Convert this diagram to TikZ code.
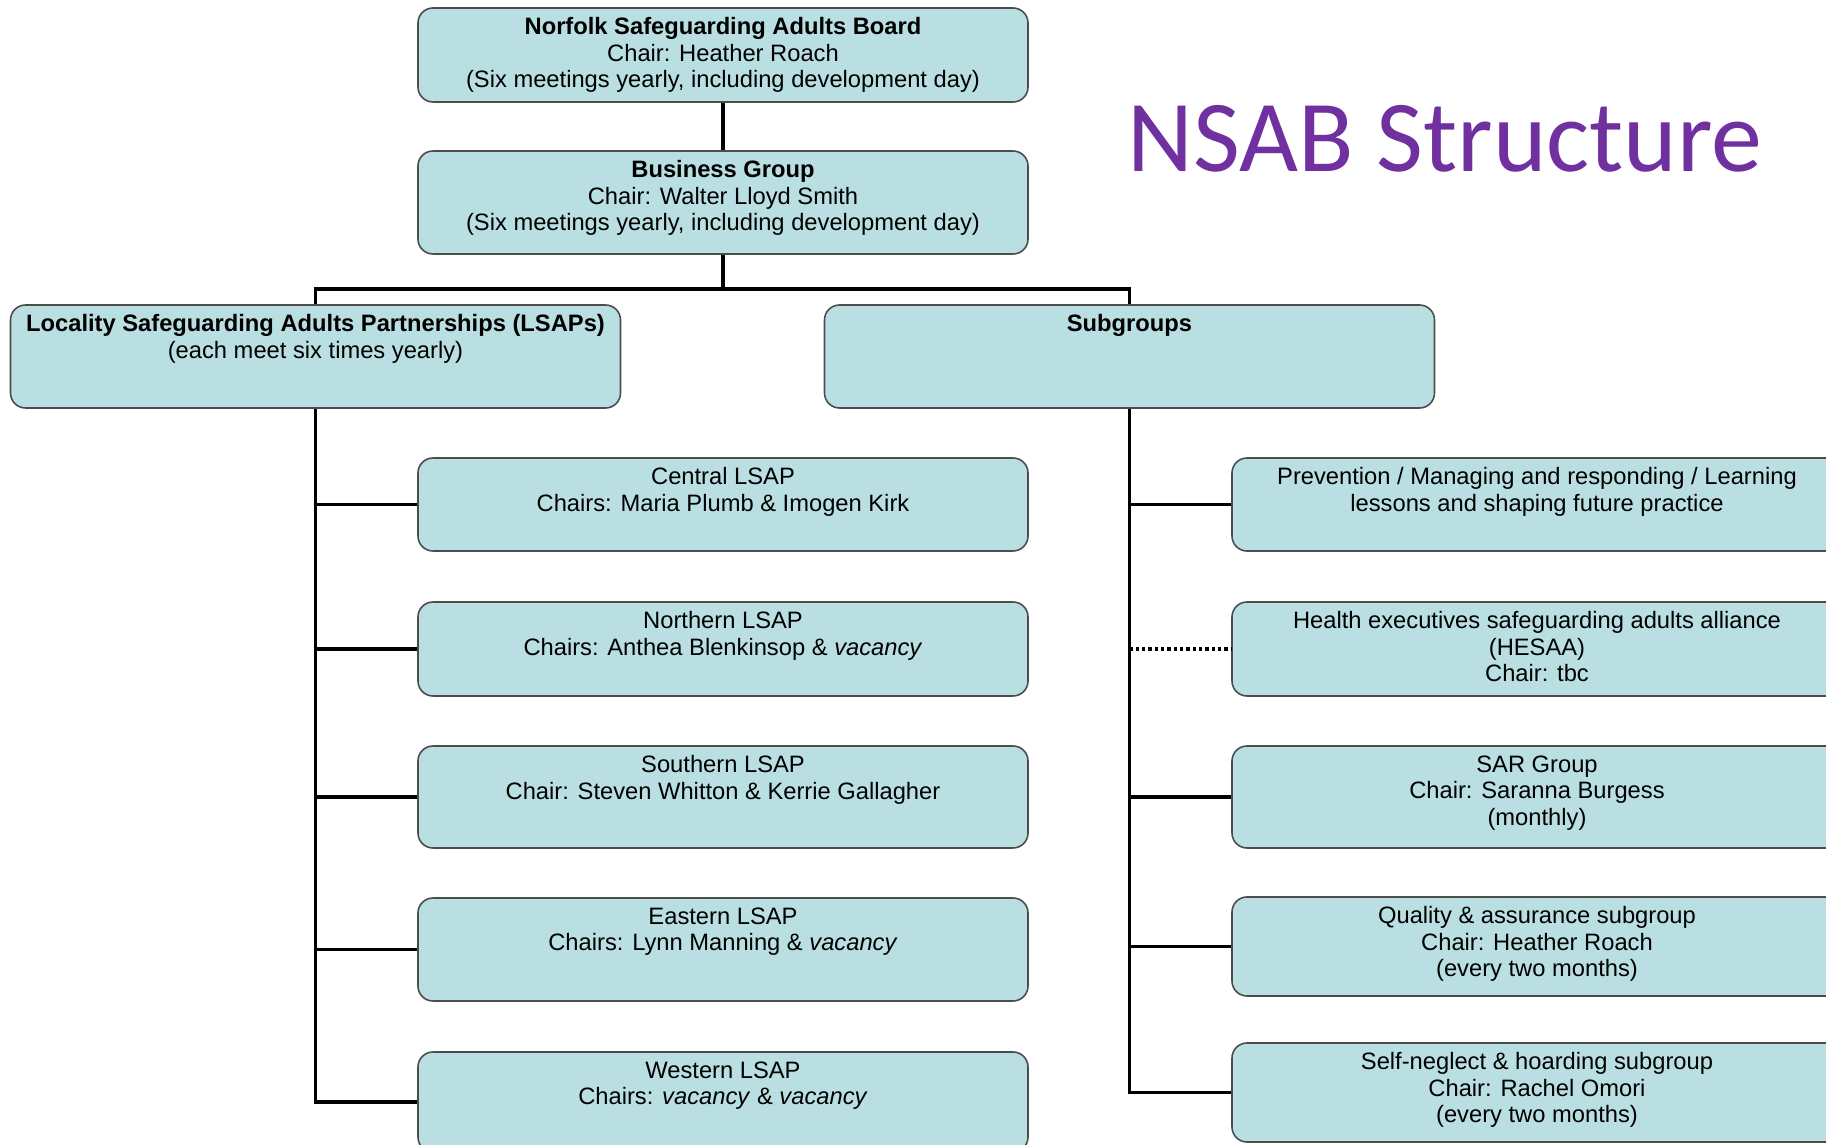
\documentclass[tikz,border=0pt]{standalone}
\usepackage{fontspec}
\setmainfont{Liberation Sans}
\newfontfamily\titlefont{Carlito}
\definecolor{boxblue}{HTML}{B9DFE3}
\definecolor{nsabpurple}{HTML}{7030A0}
\tikzset{
	orgbox/.style={draw=black!70, fill=boxblue, rounded corners=3mm, line width=0.9pt,
		minimum width=122mm, inner sep=0pt},
	boxtext/.style={anchor=north, align=center, inner sep=0pt, yshift=-5.8pt,
		font=\fontsize{13.5}{15}\selectfont},
	link/.style={line width=2pt},
	dotlink/.style={line width=2pt, dash pattern=on 1.8pt off 1.8pt}
}
\begin{document}
\begin{tikzpicture}[x=0.2mm,y=-0.2mm]
	\useasboundingbox (0,0) rectangle (1826,1145);
	\clip (0,0) rectangle (1826,1145);
	% title
	\node[anchor=base west, inner sep=0pt, text=nsabpurple, font=\titlefont\fontsize{58}{60}\selectfont] (title) at (1127,172) {NSAB Structure};
	% board and business group
	\node[orgbox, minimum height=18.8mm, label={[boxtext]north:{\textbf{Norfolk Safeguarding Adults Board}\\Chair: Heather Roach\\(Six meetings yearly, including development day)}}] (board) at (723,55) {};
	\node[orgbox, minimum height=20.6mm, label={[boxtext]north:{\textbf{Business Group}\\Chair: Walter Lloyd Smith\\(Six meetings yearly, including development day)}}] (business) at (723,202.5) {};
	% second row
	\node[orgbox, minimum height=20.6mm, label={[boxtext]north:{\textbf{Locality Safeguarding Adults Partnerships (LSAPs)}\\(each meet six times yearly)}}] (lsaps) at (315.5,356.5) {};
	\node[orgbox, minimum height=20.6mm, label={[boxtext]north:{\textbf{Subgroups}}}] (subgroups) at (1129.5,356.5) {};
	% locality partnerships
	\node[orgbox, minimum height=18.6mm, label={[boxtext]north:{Central LSAP\\Chairs: Maria Plumb \& Imogen Kirk}}] (central) at (723,504.5) {};
	\node[orgbox, minimum height=18.8mm, label={[boxtext]north:{Northern LSAP\\Chairs: Anthea Blenkinsop \& \textit{vacancy}}}] (northern) at (723,649) {};
	\node[orgbox, minimum height=20.4mm, label={[boxtext]north:{Southern LSAP\\Chair: Steven Whitton \& Kerrie Gallagher}}] (southern) at (723,797) {};
	\node[orgbox, minimum height=20.6mm, label={[boxtext]north:{Eastern LSAP\\Chairs: Lynn Manning \& \textit{vacancy}}}] (eastern) at (723,949.5) {};
	\node[orgbox, minimum height=20mm, label={[boxtext]north:{Western LSAP\\Chairs: \textit{vacancy} \& \textit{vacancy}}}] (western) at (723,1102) {};
	% subgroups
	\node[orgbox, minimum height=18.6mm, label={[boxtext]north:{Prevention / Managing and responding / Learning\\lessons and shaping future practice}}] (prevention) at (1537,504.5) {};
	\node[orgbox, minimum height=18.8mm, label={[boxtext]north:{Health executives safeguarding adults alliance\\(HESAA)\\Chair: tbc}}] (hesaa) at (1537,649) {};
	\node[orgbox, minimum height=20.4mm, label={[boxtext]north:{SAR Group\\Chair: Saranna Burgess\\(monthly)}}] (sar) at (1537,797) {};
	\node[orgbox, minimum height=19.8mm, label={[boxtext]north:{Quality \& assurance subgroup\\Chair: Heather Roach\\(every two months)}}] (quality) at (1537,946.5) {};
	\node[orgbox, minimum height=19.8mm, label={[boxtext]north:{Self-neglect \& hoarding subgroup\\Chair: Rachel Omori\\(every two months)}}] (selfneglect) at (1537,1092.5) {};
	% connectors
	\coordinate (split) at (723,289);
	\draw[link] (board.south) -- (business.north);
	\draw[link] (business.south) -- (split);
	\draw[link] (lsaps.north) |- (split) -| (subgroups.north);
	\draw[link] (lsaps.south) |- (western.west);
	\draw[link] (lsaps.south |- central.west) -- (central.west);
	\draw[link] (lsaps.south |- northern.west) -- (northern.west);
	\draw[link] (lsaps.south |- southern.west) -- (southern.west);
	\draw[link] (lsaps.south |- eastern.west) -- (eastern.west);
	\draw[link] (subgroups.south) |- (selfneglect.west);
	\draw[link] (subgroups.south |- prevention.west) -- (prevention.west);
	\draw[dotlink] (subgroups.south |- hesaa.west) -- (hesaa.west);
	\draw[link] (subgroups.south |- sar.west) -- (sar.west);
	\draw[link] (subgroups.south |- quality.west) -- (quality.west);
\end{tikzpicture}
\end{document}
